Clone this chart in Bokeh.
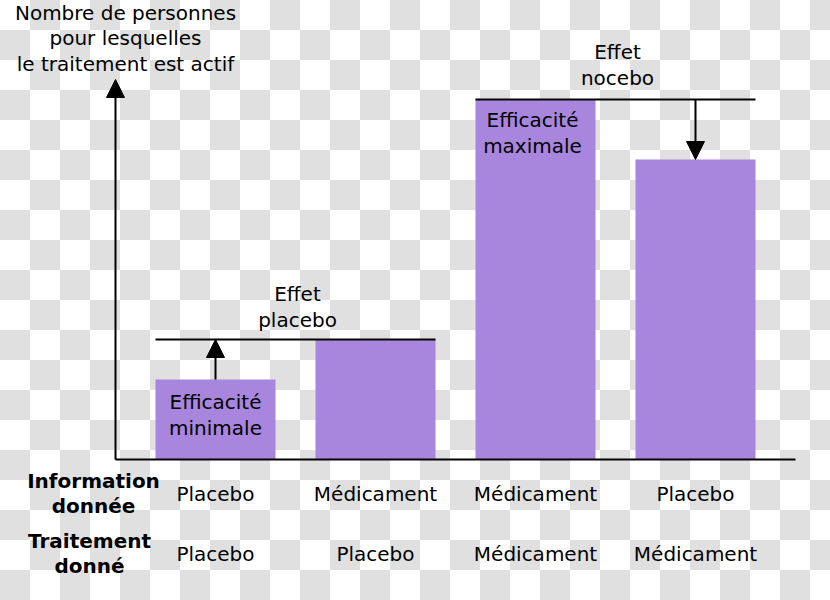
from bokeh.plotting import figure
from bokeh.models import Range1d, Arrow, NormalHead, ColumnDataSource
from bokeh.core.properties import value
from bokeh.embed import file_html
from bokeh.resources import INLINE

# ---------------- data ----------------
groups = [1, 2, 3, 4]
efficacy = [2, 3, 9, 7.5]          # number of people for whom treatment is active
info_given = ["Placebo", "Médicament", "Médicament", "Placebo"]
treatment_given = ["Placebo", "Placebo", "Médicament", "Médicament"]
bar_labels = ["Efficacité\nminimale", "", "Efficacité\nmaximale", ""]
row_headers = ["Information\ndonnée", "Traitement\ndonné"]
y_title = "Nombre de personnes\npour lesquelles\nle traitement est actif"
effect_labels = ["Effet\nplacebo", "Effet\nnocebo"]

# ---------------- layout ----------------
W, H = 830, 600
X_PX = 160.0   # pixels per group
Y_PX = 40.0    # pixels per unit
X0_PX = 215.0  # pixel of group 1
Y0_PX = 459.0  # pixel (from top) of zero
BAR_W = 0.75
FONT = value("DejaVu Sans")
FS = "20px"
LH = 1.06
PURPLE = "#a886de"

x_start = 1 - X0_PX / X_PX
x_end = x_start + W / X_PX
y_end = Y0_PX / Y_PX
y_start = y_end - H / Y_PX

p = figure(width=W, height=H, output_backend="svg", toolbar_location=None,
           x_range=Range1d(x_start, x_end), y_range=Range1d(y_start, y_end),
           x_axis_location=None, y_axis_location=None, min_border=0)
p.grid.visible = False
p.outline_line_color = None
p.background_fill_alpha = 0
p.border_fill_alpha = 0
p.styles = {"background": "repeating-conic-gradient(#e0e0e0 0% 25%, #ffffff 0% 50%) 0 0 / 60px 60px"}

# bars
src = ColumnDataSource(dict(x=groups, top=efficacy, info=info_given,
                            treat=treatment_given, lab=bar_labels))
p.vbar(x="x", top="top", bottom=0, width=BAR_W, source=src,
       fill_color=PURPLE, line_color=None)

# axes
axis_x = groups[0] - BAR_W / 2 - 0.25
axis_right = groups[-1] + BAR_W / 2 + 0.25
p.segment(x0=[axis_x], y0=[0], x1=[axis_right], y1=[0], line_color="black", line_width=2)
y_top = max(efficacy) + 0.5
p.add_layout(Arrow(x_start=axis_x, y_start=0, x_end=axis_x, y_end=y_top,
                   line_color="black", line_width=2,
                   end=NormalHead(size=18, fill_color="black", line_color="black")))

# effect reference lines
p.segment(x0=[groups[0] - BAR_W / 2, groups[2] - BAR_W / 2],
          y0=[efficacy[1], efficacy[2]],
          x1=[groups[1] + BAR_W / 2, groups[3] + BAR_W / 2],
          y1=[efficacy[1], efficacy[2]], line_color="black", line_width=2)

# effect arrows
p.add_layout(Arrow(x_start=groups[0], y_start=efficacy[0], x_end=groups[0], y_end=efficacy[1],
                   line_color="black", line_width=2,
                   end=NormalHead(size=18, fill_color="black", line_color="black")))
p.add_layout(Arrow(x_start=groups[3], y_start=efficacy[2], x_end=groups[3], y_end=efficacy[3],
                   line_color="black", line_width=2,
                   end=NormalHead(size=18, fill_color="black", line_color="black")))

common = dict(text_font=FONT, text_font_size=FS, text_align="center",
              text_baseline="middle", text_line_height=LH, text_color="black")

# effect labels
p.text(x=[(groups[0] + groups[1]) / 2 + 2 / X_PX, (groups[2] + groups[3]) / 2 + 2 / X_PX],
       y=[efficacy[1] + 32.5 / Y_PX, efficacy[2] + 34.5 / Y_PX],
       text=effect_labels, **common)

# bar inner labels
p.text(x=[groups[0], groups[2] - 3 / X_PX],
       y=[efficacy[0] - 35.5 / Y_PX, efficacy[2] - 33.5 / Y_PX],
       text=[bar_labels[0], bar_labels[2]], **common)

# y title
p.text(x=[axis_x + 10 / X_PX], y=[(Y0_PX - 38) / Y_PX], text=[y_title], **common)

# category rows
row1_y = -(493 - Y0_PX) / Y_PX
row2_y = -(553 - Y0_PX) / Y_PX
p.text(x="x", y=row1_y, text="info", source=src, **common)
p.text(x="x", y=row2_y, text="treat", source=src, **common)
p.text(x=[axis_x - 22 / X_PX, axis_x - 26 / X_PX], y=[row1_y, row2_y],
       text=row_headers, text_font_style="bold", **common)

open("out.html", "w").write(file_html(p, INLINE))
